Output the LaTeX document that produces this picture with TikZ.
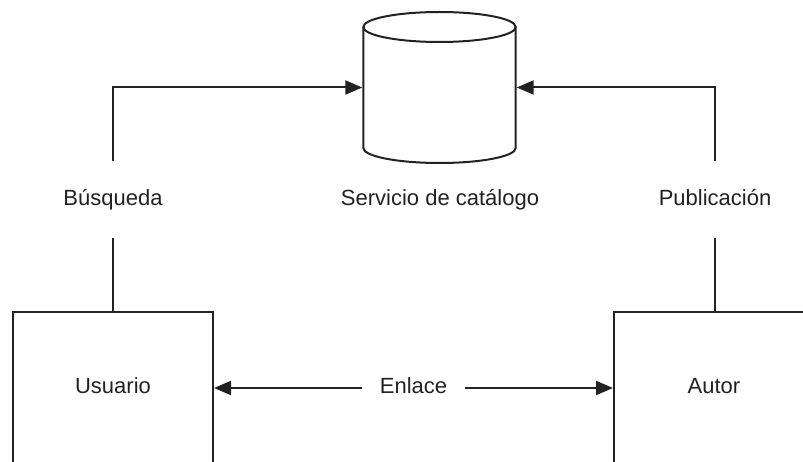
\documentclass[tikz,border=0pt]{standalone}
\usepackage{fontspec}
\setmainfont{Liberation Sans}
\usetikzlibrary{arrows.meta,calc}
\definecolor{ink}{HTML}{222222}
\begin{document}
\begin{tikzpicture}[x=1pt,y=1pt,
  line width=2pt, draw=ink, text=ink,
  font=\fontsize{22}{26}\selectfont,
  arr/.style={-{Triangle[length=17pt,width=14pt]}},
  boxnode/.style={draw, rectangle, minimum width=200pt, minimum height=152pt, inner sep=0pt,
    text height=16pt, text depth=4.5pt},
  lbl/.style={inner xsep=0pt, inner ysep=0pt, text height=16pt, text depth=4.5pt},
  gaplbl/.style={lbl, minimum height=75pt},
  linklbl/.style={lbl, inner xsep=17pt}]
\useasboundingbox (0,0) rectangle (803,461);
\clip (0,0) rectangle (803,461);

% catalogue store (cylinder drawn around an empty anchor node)
\node[minimum width=152.4pt, minimum height=151pt, inner sep=0pt] (db) at (439.5,373.5) {};
\draw (439.5,434) ellipse [x radius=76.2, y radius=15];
\draw (363.3,434) -- (363.3,313)
      arc [start angle=180, end angle=360, x radius=76.2, y radius=15]
      -- (515.7,434);
\node[lbl] (dblabel) at (440,261.5) {Servicio de catálogo};

% actors
\node[boxnode] (usuario) at (113,73) {Usuario};
\node[boxnode] (autor) at (714,73) {Autor};

% connector labels
\node[gaplbl] (busq) at (113,261.5) {Búsqueda};
\node[gaplbl] (publ) at (715,261.5) {Publicación};
\node[linklbl] (enlace) at (413.5,73) {Enlace};

% connectors
\draw (usuario.north -| busq.south) -- (busq.south);
\draw[arr] (busq.north) |- (db.west);
\draw (autor.north -| publ.south) -- (publ.south);
\draw[arr] (publ.north) |- (db.east);
\draw[arr] (enlace.west) -- (usuario.east);
\draw[arr] (enlace.east) -- (autor.west);
\end{tikzpicture}
\end{document}
